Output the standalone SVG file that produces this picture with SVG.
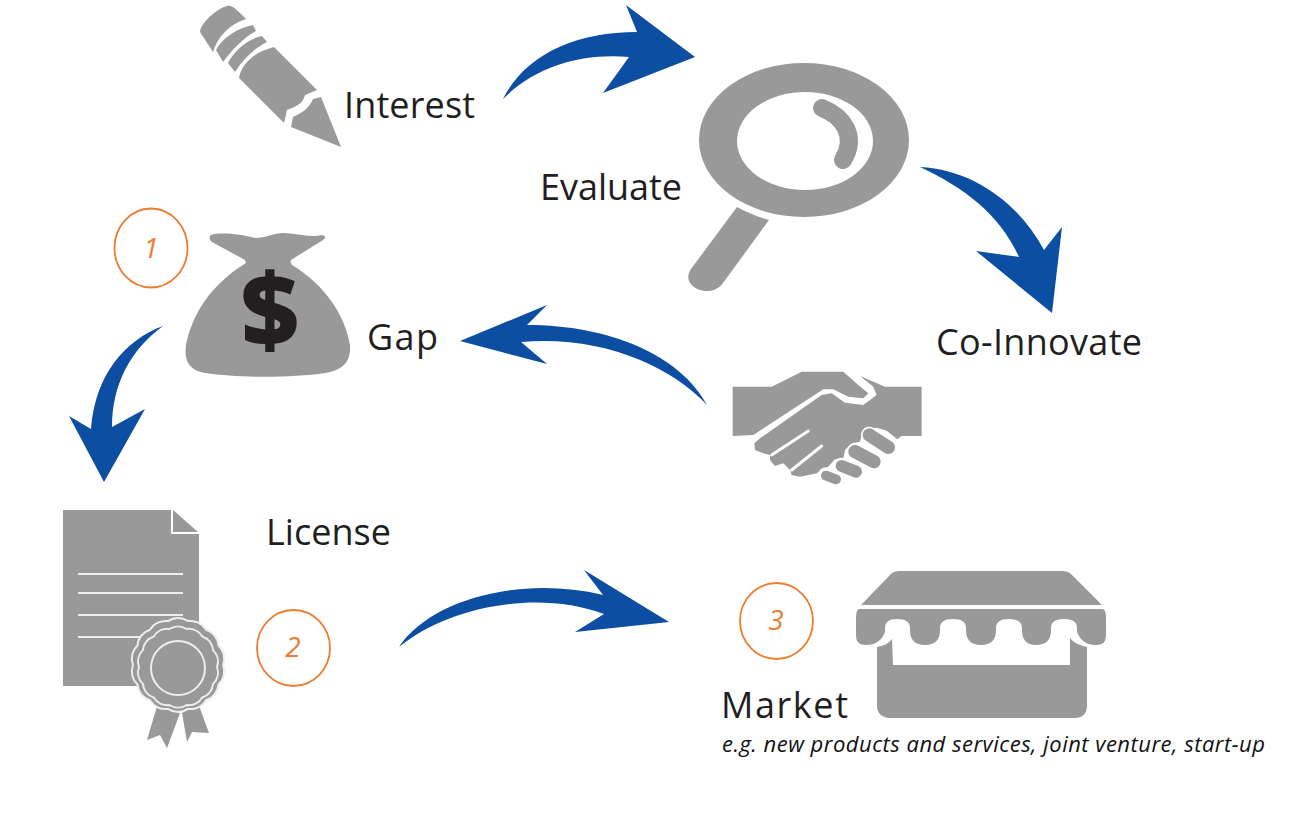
<svg xmlns="http://www.w3.org/2000/svg" width="1306" height="819" viewBox="0 0 1306 819">
<style>
.g{fill:#999}
.gl{fill:none;stroke:#999;stroke-linecap:round}
.wl{fill:none;stroke:#eee;stroke-width:2}
.sl{fill:#999;stroke:#eee;stroke-width:2}
.a{fill:#0b4ea2}
.t{font-family:"Open Sans","Liberation Sans",sans-serif;font-size:36px;fill:#1f1f1f}
.c{fill:#fff;stroke:#ed7d31;stroke-width:1.8}
.n{font-family:"Open Sans","Liberation Sans",sans-serif;font-size:28px;font-style:italic;fill:#ed7d31;text-anchor:middle}
.s{font-family:"Open Sans","Liberation Sans",sans-serif;font-size:22px;font-style:italic;fill:#111}
</style>
<g id="connectors">
<path class="a" d="M503 99C525 55 575 32 637 32L626 5L695 57L603 93L629 57C580 53 535 67 503 99Z"/>
<path class="a" d="M920 167C975 170 1020 205 1044 250L1062 227L1052 313L976 251L1019 257C1000 215 965 188 920 167Z"/>
<path class="a" d="M707 405C680 355 610 325 527 325L547 305L460 341L547 364L521 342C600 335 670 365 707 405Z"/>
<path class="a" d="M163 326C125 340 95 375 91 429L69 416L104 482L145 409L112 427C112 385 130 350 163 326Z"/>
<path class="a" d="M399 647C430 600 520 575 603 595L584 570L669 622L575 632L604 614C540 590 450 605 399 647Z"/>
</g>
<g id="interest">
<path class="g" d="M200 32C201 22 218 8 227 6C232 5 235 8 246 19C230 24 218 36 213 52Z"/>
<path class="g" d="M253 25L256 31C243 38 232 50 223 62L216 50C223 37 238 28 253 25Z"/>
<path class="g" d="M262 36L267 42C253 49 243 60 235 72L228 63C235 50 248 39 262 36Z"/>
<path class="g" d="M274 47L317 90L305 95C303 104 295 107 287 110L284 123L239 78C241 65 253 52 274 47Z"/>
<path class="g" d="M321 97L341 147L291 127L293 117C300 114 309 109 313 99Z"/>
<text class="t" x="344" y="118" textLength="131">Interest</text>
</g>
<g id="evaluate">
<path class="g" fill-rule="evenodd" d="M699 140A105 77 0 1 0 909 140A105 77 0 1 0 699 140ZM737 141A68 49 0 1 1 873 141A68 49 0 1 1 737 141Z"/>
<path class="gl" d="M822 108C842 116 858 135 843 160" stroke-width="18"/>
<path class="g" d="M737 207C748 213 758 217 769 220L723 283C716 293 702 293 694 287C687 282 687 275 691 269Z"/>
<text class="t" x="540" y="200" textLength="142">Evaluate</text>
</g>
<g id="gap">
<ellipse class="c" cx="151" cy="248" rx="36.5" ry="39.5"/>
<text class="n" x="151" y="258">1</text>
<path class="g" d="M211 235C220 232 240 234 255 238C265 238 275 233 283 233C295 233 310 238 322 235C326 236 326 238 323 240L291 260C290 262 291 263 292 265C325 285 345 315 350 345C351 362 343 370 325 373C290 378 240 378 205 373C188 370 184 360 186 345C192 315 210 285 246 263L245 260L212 242C209 240 209 236 211 235Z"/>
<text x="270" y="346" font-family="'Open Sans','Liberation Sans',sans-serif" font-weight="800" font-size="101" fill="#231f20" text-anchor="middle">$</text>
<text class="t" x="367" y="350" textLength="71">Gap</text>
</g>
<g id="co-innovate">
<text class="t" x="936" y="355" textLength="206">Co-Innovate</text>
<g transform="translate(720 360) scale(.3333)">
<path class="g" d="M38 80H155L245 35H370L415 75L445 100L430 115L385 110L340 88H310L100 225L38 228Z"/>
<path class="g" d="M420 48L495 80H605V228H545L532 238L500 212L470 203L440 207L425 225L420 245L395 250L375 270L370 295L345 298L320 325L290 340L240 350L215 345L210 330L190 310L165 318L150 300V285L130 280L105 270L103 250L120 235L305 105L335 100L375 128L430 135L470 105L460 80Z"/>
<path d="M155 285L265 213M215 330L305 258" fill="none" stroke="#fff" stroke-width="9" stroke-linecap="round"/>
<path d="M448 225L505 262M405 275L462 305M365 318L408 335M318 347L348 358" fill="none" stroke="#fff" stroke-width="50" stroke-linecap="round"/>
<path class="gl" d="M448 225L505 262" stroke-width="40"/>
<path class="gl" d="M405 275L462 305" stroke-width="40"/>
<path class="gl" d="M365 318L408 335" stroke-width="36"/>
<path class="gl" d="M318 347L348 358" stroke-width="30"/>
</g>
</g>
<g id="license">
<path class="g" d="M63 510H171V534H199V686H63Z"/>
<path class="g" d="M173 510L198 532H173Z"/>
<path class="wl" d="M78 574H183M78 593H183M78 615H183M78 637H183"/>
<path class="g" d="M158 703L147 740L160 735L167 748L180 713Z"/>
<path class="g" d="M182 713L187 742L192 732L209 733L198 703Z"/>
<path class="sl" d="M223 665A18 18 0 0 1 218.500 684.500A18 18 0 0 1 206 700.200A18 18 0 0 1 188 708.900A18 18 0 0 1 168 708.900A18 18 0 0 1 150 700.200A18 18 0 0 1 137.500 684.500A18 18 0 0 1 133 665A18 18 0 0 1 137.500 645.500A18 18 0 0 1 150 629.800A18 18 0 0 1 168 621.100A18 18 0 0 1 188 621.100A18 18 0 0 1 206 629.800A18 18 0 0 1 218.500 645.500A18 18 0 0 1 223 665Z"/>
<path class="sl" d="M217 667A16 16 0 0 1 213.100 683.900A16 16 0 0 1 202.300 697.500A16 16 0 0 1 186.700 705A16 16 0 0 1 169.300 705A16 16 0 0 1 153.700 697.500A16 16 0 0 1 142.900 683.900A16 16 0 0 1 139 667A16 16 0 0 1 142.900 650.100A16 16 0 0 1 153.700 636.500A16 16 0 0 1 169.300 629A16 16 0 0 1 186.700 629A16 16 0 0 1 202.300 636.500A16 16 0 0 1 213.100 650.100A16 16 0 0 1 217 667Z"/>
<circle class="sl" cx="178" cy="668" r="27"/>
<text class="t" x="266" y="545" textLength="125">License</text>
<ellipse class="c" cx="293.500" cy="648" rx="36.5" ry="38"/>
<text class="n" x="293" y="657">2</text>
</g>
<g id="market">
<ellipse class="c" cx="776.500" cy="621" rx="36.5" ry="38"/>
<text class="n" x="776" y="630">3</text>
<path class="g" d="M861 605L891 574C893 572 896 571 900 571H1062C1066 571 1069 572 1071 574L1102 605Z"/>
<path class="g" d="M859 609H1103Q1106 610 1106 618V636Q1106 645 1096 645Q1082 645 1077 632V628Q1077 619 1064 619Q1051 619 1051 628V630Q1051 645 1036 645Q1022 645 1022 630V628Q1022 619 1009 619Q996 619 996 628V630Q996 645 981 645Q966 645 966 630V628Q966 619 953 619Q940 619 940 628V630Q940 645 925 645Q910 645 910 630V628Q910 619 897 619Q885 619 885 628V632Q880 645 866 645Q856 645 856 636V618Q856 610 859 609Z"/>
<path class="g" d="M892 639L893 665H1070V638C1073 642 1078 645 1087 647V706C1087 714 1082 718 1075 718H890C882 718 877 713 877 706V647C883 646 888 644 892 639Z"/>
<text class="t" x="721" y="718" textLength="127">Market</text>
<text class="s" x="722" y="752" textLength="543">e.g. new products and services, joint venture, start-up</text>
</g>
</svg>
